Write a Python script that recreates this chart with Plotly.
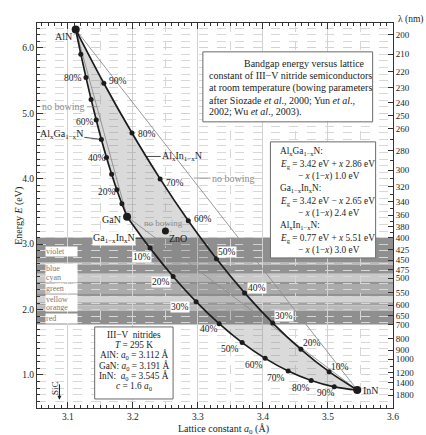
import plotly.graph_objects as go

# ---------------- data ----------------
binary_names = ["AlN", "GaN", "InN"]
binary_a = [3.112, 3.191, 3.545]   # lattice constant a0 (Å)
binary_E = [6.28, 3.42, 0.77]      # band gap (eV)

pct = [0, 10, 20, 30, 40, 50, 60, 70, 80, 90, 100]
# Al_x Ga_(1-x) N, x = Al fraction (GaN -> AlN)
algan_a = [3.191, 3.1831, 3.1752, 3.1673, 3.1594, 3.1515, 3.1436, 3.1357, 3.1278, 3.1199, 3.112]
algan_E = [3.42, 3.616, 3.832, 4.068, 4.324, 4.600, 4.896, 5.212, 5.548, 5.904, 6.28]
# Ga_(1-x) In_x N, x = In fraction (GaN -> InN)
gainn_a = [3.191, 3.2264, 3.2618, 3.2972, 3.3326, 3.368, 3.4034, 3.4388, 3.4742, 3.5096, 3.545]
gainn_E = [3.42, 2.939, 2.506, 2.121, 1.784, 1.495, 1.254, 1.061, 0.916, 0.819, 0.77]
# Al_x In_(1-x) N, x = Al fraction (InN -> AlN)
alinn_a = [3.545, 3.5017, 3.4584, 3.4151, 3.3718, 3.3285, 3.2852, 3.2419, 3.1986, 3.1553, 3.112]
alinn_E = [0.77, 1.051, 1.392, 1.793, 2.254, 2.775, 3.356, 3.997, 4.698, 5.459, 6.28]

zno_a, zno_E = 3.25, 3.20
sic_a, sic_E = 3.087, 0.62

algan_labels = [80, 60, 40, 20]
alinn_labels = [90, 80, 70, 60, 50, 40, 30, 20, 10]
gainn_labels = [10, 20, 30, 40, 50, 60, 70, 80, 90]

wl_ticks = [200, 210, 220, 230, 240, 250, 260, 280, 300, 320, 340, 360, 380, 400,
            425, 450, 475, 500, 550, 600, 650, 700, 800, 900, 1000, 1200, 1400, 1800]
wl_minor = [270, 290, 310, 330, 350, 370, 390, 1100, 1300, 1600]

band_names = ["violet", "blue", "cyan", "green", "yellow", "orange", "red"]
band_lo_nm = [400, 455, 462, 487, 511, 519, 551, 564, 587, 600, 626]
band_hi_nm = [455, 462, 487, 511, 519, 551, 564, 587, 600, 626, 700]

HC = 1239.84  # eV nm

# ---------------- styles ----------------
band_shades = ["#8f8f8f", "#b8b8b8", "#929292", "#c9c9c9", "#939393", "#ababab",
               "#939393", "#d3d3d3", "#a3a3a3", "#bababa", "#8f8f8f"]
band_label_E = [2.88, 2.628, 2.483, 2.32, 2.168, 2.04, 1.864]
algan_shift = [(-13, 1), (-11, 2), (-10, 0), (-10, 2)]
alinn_shift = [(14, -2), (15, 1), (15, 4), (15, -2), (11, -7), (12, -5), (11, -7), (11, -6), (11, -5)]
gainn_shift = [(-8, 9), (-12, 6), (-16, 5), (-10, 5), (-12, 6), (-11, 7), (-12, 7), (-10, 8), (-8, 6)]
in_band = {("GaInN", 10), ("GaInN", 20), ("GaInN", 30), ("AlInN", 50), ("AlInN", 40), ("AlInN", 30)}

XR = [3.0525, 3.6]
YR = [0.495, 6.38]
FONT = "Liberation Serif, Times New Roman, serif"
INK = "#1c1c1c"
GRAYTXT = "#8a8a8a"
FS = 10      # box / label text
FP = 9.5     # percent labels

fig = go.Figure()

# ternary region fill
reg_a = algan_a + alinn_a[::-1] + gainn_a[::-1]
reg_E = algan_E + alinn_E[::-1] + gainn_E[::-1]
fig.add_trace(go.Scatter(x=reg_a, y=reg_E, fill="toself", fillcolor="rgba(128,128,128,0.29)",
                         line=dict(width=0), mode="lines", hoverinfo="skip"))

# no-bowing straight lines
for i, j in [(0, 1), (1, 2), (0, 2)]:
    fig.add_trace(go.Scatter(x=[binary_a[i], binary_a[j]], y=[binary_E[i], binary_E[j]],
                             mode="lines", line=dict(color="#8c8c8c", width=0.9)))

# bowing curves
for xa, ye in [(algan_a, algan_E), (gainn_a, gainn_E), (alinn_a, alinn_E)]:
    fig.add_trace(go.Scatter(x=xa, y=ye, mode="lines+markers",
                             line=dict(color=INK, width=1.7, shape="spline"),
                             marker=dict(color=INK, size=5)))

# binaries and ZnO
fig.add_trace(go.Scatter(x=binary_a, y=binary_E, mode="markers", marker=dict(color=INK, size=8)))
fig.add_trace(go.Scatter(x=[zno_a], y=[zno_E], mode="markers", marker=dict(color=INK, size=7)))

# dummy traces for extra axes
fig.add_trace(go.Scatter(x=[], y=[], xaxis="x2", yaxis="y"))
fig.add_trace(go.Scatter(x=[], y=[], xaxis="x3", yaxis="y"))
fig.add_trace(go.Scatter(x=[], y=[], xaxis="x", yaxis="y2"))

shapes = []
for lo, hi, c in zip(band_lo_nm, band_hi_nm, band_shades):
    shapes.append(dict(type="rect", xref="x domain", yref="y", x0=0, x1=1,
                       y0=HC / hi, y1=HC / lo, fillcolor=c, line=dict(width=0), layer="below"))

# boxes
shapes.append(dict(type="rect", xref="x", yref="y", x0=3.3076, x1=3.5687, y0=4.869, y1=5.939,
                   fillcolor="white", line=dict(color="#6a6a6a", width=1), layer="above"))
shapes.append(dict(type="rect", xref="x", yref="y", x0=3.4115, x1=3.5733, y0=2.789, y1=4.563,
                   fillcolor="white", line=dict(color="#6a6a6a", width=1), layer="above"))
shapes.append(dict(type="rect", xref="x", yref="y", x0=3.1412, x1=3.2618, y0=0.633, y1=1.734,
                   fillcolor="white", line=dict(color="#6a6a6a", width=1), layer="above"))

ann = []


def txt(x, y, s, size=FS, color=INK, **kw):
    d = dict(x=x, y=y, text=s, showarrow=False, font=dict(family=FONT, size=size, color=color))
    d.update(kw)
    ann.append(d)


# percentage labels
for p, (dx, dy) in zip(algan_labels, algan_shift):
    i = pct.index(p)
    txt(algan_a[i], algan_E[i], f"{p}%", size=FP, xshift=dx, yshift=-dy)
for p, (dx, dy) in zip(alinn_labels, alinn_shift):
    i = pct.index(p)
    extra = dict(bgcolor="white", borderpad=0) if ("AlInN", p) in in_band else {}
    txt(alinn_a[i], alinn_E[i], f"{p}%", size=FP, xshift=dx, yshift=-dy, **extra)
for p, (dx, dy) in zip(gainn_labels, gainn_shift):
    i = pct.index(p)
    extra = dict(bgcolor="white", borderpad=0) if ("GaInN", p) in in_band else {}
    txt(gainn_a[i], gainn_E[i], f"{p}%", size=FP, xshift=dx, yshift=-dy, **extra)

# binary labels
txt(binary_a[0], binary_E[0], "AlN", xanchor="right", xshift=-2, yshift=-7)
txt(binary_a[1], binary_E[1], "GaN", xanchor="right", xshift=-4, yshift=-3)
txt(binary_a[2], binary_E[2], "InN", xanchor="left", xshift=4, yshift=0)
txt(zno_a, zno_E, "ZnO", xshift=13, yshift=-7)


# curve name labels with leaders
def lead(x, y, s, ax, ay, color=INK, **kw):
    d = dict(x=x, y=y, text=s, showarrow=True, arrowhead=0, arrowwidth=0.8, arrowcolor=color,
             ax=ax, ay=ay, standoff=0, font=dict(family=FONT, size=FS, color=color))
    d.update(kw)
    ann.append(d)


lead(3.1515, 4.60, "Al<sub>x</sub>Ga<sub>1−x</sub>N", -40, -5)
lead(3.1446, 5.10, "no bowing", -33, 0, color=GRAYTXT)
lead(3.2203, 4.34, "Al<sub>x</sub>In<sub>1−x</sub>N", 36, 0)
lead(3.2936, 4.01, "no bowing", 40, 0, color=GRAYTXT)
lead(3.214, 3.09, "Ga<sub>1−x</sub>In<sub>x</sub>N", -28, 0, bgcolor="white", borderpad=0)
txt(3.2474, 3.324, "no bowing", size=9, color=GRAYTXT)

# SiC
ann.append(dict(x=sic_a, y=sic_E, text="", showarrow=True, arrowhead=2, arrowsize=0.8,
                arrowwidth=1, arrowcolor=INK, ax=0, ay=-17))
txt(3.0802, 0.80, "SiC", size=9, textangle=-90)

# band labels
for name, e in zip(band_names, band_label_E):
    ann.append(dict(xref="x domain", yref="y", x=0.022, y=e, text=name, showarrow=False,
                    xanchor="left", width=31, height=8 if name in ("yellow", "orange") else None,
                    align="left", bgcolor="white", borderpad=0,
                    font=dict(family=FONT, size=8, color="#7a7a7a")))

# title box text
title_lines = ["Bandgap energy versus lattice",
               "constant of III−V nitride semiconductors",
               "at room temperature (bowing parameters",
               "after Siozade <i>et al</i>., 2000; Yun <i>et al</i>.,",
               "2002; Wu <i>et al</i>., 2003)."]
title_E = [5.755, 5.572, 5.388, 5.197, 5.014]
for k, (s, e) in enumerate(zip(title_lines, title_E)):
    if k == 0:
        txt(3.5595, e, s, xanchor="right")
    else:
        txt(3.3137, e, s, xanchor="left")

# formula box text
f_lines = ["Al<sub>x</sub>Ga<sub>1−x</sub>N:",
           "<i>E</i><sub>g</sub> = 3.42 eV + <i>x</i> 2.86 eV",
           "− <i>x</i> (1−<i>x</i>) 1.0 eV",
           "Ga<sub>1−x</sub>In<sub>x</sub>N:",
           "<i>E</i><sub>g</sub> = 3.42 eV − <i>x</i> 2.65 eV",
           "− <i>x</i> (1−<i>x</i>) 2.4 eV",
           "Al<sub>x</sub>In<sub>1−x</sub>N:",
           "<i>E</i><sub>g</sub> = 0.77 eV + <i>x</i> 5.51 eV",
           "− <i>x</i> (1−<i>x</i>) 3.0 eV"]
f_E = [4.41, 4.222, 4.034, 3.846, 3.657, 3.469, 3.281, 3.093, 2.904]
for k, (s, e) in enumerate(zip(f_lines, f_E)):
    x0 = 3.4511 if k % 3 == 2 else 3.4237
    txt(x0, e, s, size=9.3, xanchor="left")

# info box text
info_lines = ["III−V  nitrides", "<i>T</i> = 295 K",
              "AlN: <i>a</i><sub>0</sub> = 3.112 Å",
              "GaN: <i>a</i><sub>0</sub> = 3.191 Å",
              "InN:  <i>a</i><sub>0</sub> = 3.545 Å",
              "<i>c</i> = 1.6 <i>a</i><sub>0</sub>"]
info_E = [1.607, 1.463, 1.301, 1.138, 0.985, 0.817]
for s, e in zip(info_lines, info_E):
    txt(3.2023, e, s, size=9.3)

# axis titles
ann.append(dict(xref="paper", yref="paper", x=-0.075, y=0.5, text="Energy <i>E</i> (eV)",
                textangle=-90, showarrow=False, font=dict(family=FONT, size=FS, color=INK)))
ann.append(dict(xref="paper", yref="paper", x=0.525, y=-0.055, text="Lattice constant <i>a</i><sub>0</sub> (Å)",
                showarrow=False, yanchor="middle", font=dict(family=FONT, size=FS, color=INK)))
ann.append(dict(xref="paper", yref="paper", x=1.008, y=1.008, text="λ (nm)", xanchor="left",
                showarrow=False, yanchor="middle", font=dict(family=FONT, size=9.5, color=INK)))

tickfont = dict(family=FONT, size=9.5, color=INK)
common_x = dict(range=XR, tickmode="linear", tick0=3.0, dtick=0.1, ticks="inside", ticklen=6,
                tickcolor="#333", showline=True, linecolor="#333", linewidth=1, showgrid=False,
                zeroline=False, tickformat=".1f", tickfont=tickfont,
                minor=dict(tick0=3.0, dtick=0.01, ticks="inside", ticklen=3, tickcolor="#333", showgrid=False))

fig.update_layout(
    width=426, height=435,
    margin=dict(l=37, r=31, t=23, b=27),
    paper_bgcolor="white", plot_bgcolor="white",
    showlegend=False,
    font=dict(family=FONT, size=9, color=INK),
    xaxis=dict(**common_x, side="bottom"),
    xaxis2=dict(**common_x, side="top", overlaying="x", matches="x", anchor="y", showticklabels=False),
    xaxis3=dict(range=XR, overlaying="x", matches="x", anchor="y", showticklabels=False, ticks="",
                showline=False, zeroline=False, tickmode="linear", tick0=3.0, dtick=0.1,
                showgrid=True, gridcolor="#d2d2d2", gridwidth=0.8,
                minor=dict(tick0=3.0, dtick=0.05, showgrid=True, gridcolor="#d6d6d6",
                           griddash="dash", gridwidth=0.7)),
    yaxis=dict(range=YR, tickmode="linear", tick0=0, dtick=1, ticks="inside", ticklen=6,
               tickcolor="#333", showline=True, linecolor="#333", linewidth=1, zeroline=False,
               tickformat=".1f", tickfont=tickfont,
               showgrid=True, gridcolor="#d2d2d2", gridwidth=0.8, griddash="dash",
               minor=dict(tick0=0, dtick=0.1, ticks="inside", ticklen=3, tickcolor="#333",
                          showgrid=True, gridcolor="#d8d8d8", griddash="dash", gridwidth=0.7)),
    yaxis2=dict(range=YR, overlaying="y", side="right", anchor="x", tickmode="array",
                tickvals=[HC / w for w in wl_ticks], ticktext=[str(w) for w in wl_ticks],
                ticks="inside", ticklen=5, tickcolor="#333", showline=True, linecolor="#333",
                linewidth=1, showgrid=False, zeroline=False, tickfont=dict(family=FONT, size=9, color=INK),
                minor=dict(tickmode="array", tickvals=[HC / w for w in wl_minor], ticks="inside",
                           ticklen=3, tickcolor="#333", showgrid=False)),
    shapes=shapes,
    annotations=ann,
)

fig.write_html("out.html")
